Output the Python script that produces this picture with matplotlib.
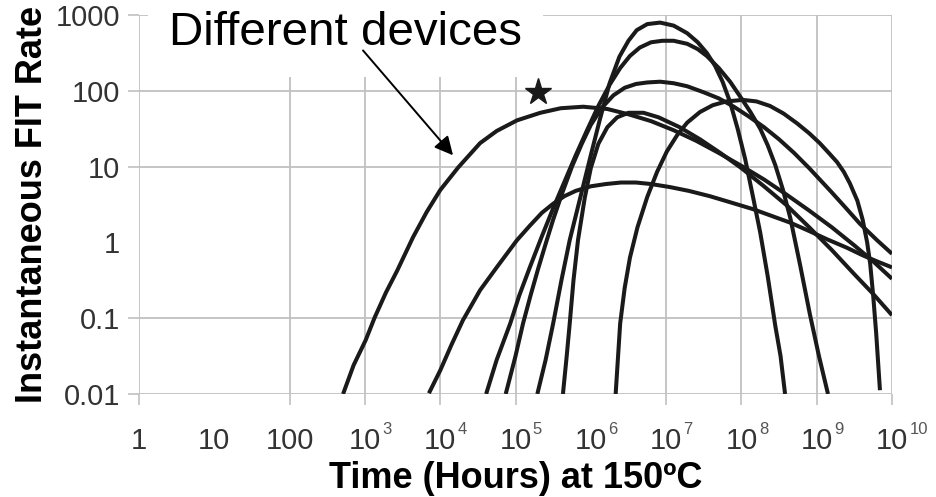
import numpy as np
import matplotlib
matplotlib.use('Agg')
import matplotlib.pyplot as plt
from matplotlib.ticker import FixedLocator, NullFormatter

plt.rcParams['font.family'] = ['Liberation Sans', 'DejaVu Sans']

# ---------------- data (log10 of hours, log10 of FIT) ----------------
x_ticks = [1, 10, 100, 1e3, 1e4, 1e5, 1e6, 1e7, 1e8, 1e9, 1e10]
x_labels = ['1', '10', '100', '10', '10', '10', '10', '10', '10', '10', '10']
x_sup_ticks = [1e3, 1e4, 1e5, 1e6, 1e7, 1e8, 1e9, 1e10]
x_sup_labels = ['3', '4', '5', '6', '7', '8', '9', '10']
x_grid = [1, 100, 1e3, 1e4, 1e5, 1e7, 1e8, 1e9, 1e10]
y_ticks = [0.01, 0.1, 1, 10, 100, 1000]
y_labels = ['0.01', '0.1', '1', '10', '100', '1000']
y_grid = [0.01, 0.1, 10, 100, 1000]

dev_a_logt = [2.71, 2.85, 3.01, 3.13, 3.28, 3.43, 3.64, 3.82, 4.0, 4.24, 4.53, 4.75, 5.02, 5.33, 5.6,
              5.9, 6.22, 6.5, 6.8, 7.1, 7.4, 7.7, 8.0, 8.3, 8.6, 8.9, 9.2, 9.5, 9.75, 10.0]
dev_a_logf = [-2.0, -1.62, -1.29, -0.99, -0.66, -0.37, 0.07, 0.40, 0.69, 0.99, 1.31, 1.47, 1.61, 1.71, 1.77,
              1.79, 1.76, 1.69, 1.60, 1.48, 1.34, 1.18, 1.01, 0.83, 0.63, 0.42, 0.20, -0.04, -0.25, -0.48]

dev_b_logt = [3.85, 4.0, 4.15, 4.30, 4.53, 4.75, 5.02, 5.19, 5.35, 5.5, 5.65, 5.8, 6.0, 6.2, 6.4, 6.6,
              6.8, 7.05, 7.3, 7.58, 7.85, 8.15, 8.4, 8.65, 8.9, 9.14, 9.4, 9.61, 9.8, 10.0]
dev_b_logf = [-1.99, -1.69, -1.35, -1.03, -0.63, -0.33, 0.03, 0.22, 0.39, 0.51, 0.61, 0.68, 0.74, 0.77, 0.79, 0.79,
              0.77, 0.73, 0.68, 0.61, 0.53, 0.44, 0.35, 0.26, 0.15, 0.04, -0.07, -0.17, -0.25, -0.33]

dev_c_logt = [5.29, 5.40, 5.50, 5.61, 5.72, 5.86, 6.0, 6.12, 6.25, 6.38, 6.5, 6.61, 6.75, 6.92, 7.1,
              7.28, 7.42, 7.54, 7.65, 7.75, 7.85, 7.95, 8.05, 8.15, 8.25, 8.35, 8.45, 8.52, 8.58]
dev_c_logf = [-2.0, -1.55, -1.07, -0.5, 0.03, 0.59, 1.15, 1.62, 2.10, 2.45, 2.66, 2.80, 2.88, 2.90, 2.86,
              2.76, 2.64, 2.50, 2.33, 2.12, 1.85, 1.50, 1.10, 0.62, 0.13, -0.45, -1.10, -1.50, -2.0]

dev_d_logt = [4.61, 4.75, 4.93, 5.05, 5.19, 5.35, 5.5, 5.65, 5.8, 5.95, 6.1, 6.25, 6.39, 6.52, 6.65, 6.8,
              6.95, 7.1, 7.28, 7.42, 7.54, 7.7, 7.85, 8.0, 8.12, 8.25, 8.35, 8.45, 8.55, 8.65, 8.78,
              8.91, 9.03, 9.15]
dev_d_logf = [-2.0, -1.55, -1.07, -0.70, -0.33, 0.08, 0.45, 0.80, 1.15, 1.48, 1.80, 2.08, 2.30, 2.46, 2.57, 2.64,
              2.66, 2.66, 2.62, 2.55, 2.46, 2.30, 2.12, 1.90, 1.72, 1.50, 1.28, 1.02, 0.70, 0.32, -0.30,
              -0.95, -1.50, -2.0]

dev_e_logt = [4.87, 5.0, 5.1, 5.2, 5.3, 5.4, 5.5, 5.62, 5.75, 5.88, 6.0, 6.15, 6.3, 6.45, 6.6, 6.75, 6.92,
              7.1, 7.28, 7.5, 7.7, 7.9, 8.1, 8.3, 8.5, 8.7, 8.9, 9.05, 9.2, 9.4, 9.57, 9.8, 10.0]
dev_e_logf = [-2.0, -1.5, -1.07, -0.70, -0.35, -0.02, 0.30, 0.65, 1.0, 1.30, 1.55, 1.78, 1.94, 2.04, 2.09, 2.11, 2.12,
              2.10, 2.06, 1.98, 1.90, 1.79, 1.66, 1.52, 1.36, 1.18, 0.98, 0.82, 0.66, 0.44, 0.25, 0.03, -0.15]

dev_f_logt = [6.33, 6.39, 6.45, 6.52, 6.62, 6.75, 6.88, 7.01, 7.15, 7.28, 7.45, 7.62, 7.8, 8.02, 8.2, 8.38,
              8.56, 8.74, 8.9, 9.04, 9.17, 9.27, 9.36, 9.44, 9.54, 9.61, 9.67, 9.71, 9.75, 9.79, 9.84]
dev_f_logf = [-2.0, -1.07, -0.6, -0.2, 0.2, 0.6, 0.93, 1.2, 1.42, 1.58, 1.72, 1.81, 1.86, 1.88, 1.86, 1.80,
              1.70, 1.57, 1.44, 1.31, 1.17, 1.06, 0.93, 0.78, 0.55, 0.30, 0.0, -0.28, -0.70, -1.20, -1.95]

dev_g_logt = [5.63, 5.68, 5.72, 5.77, 5.83, 5.92, 6.0, 6.1, 6.22, 6.35, 6.5, 6.7, 6.9, 7.18, 7.45, 7.72,
              8.0, 8.3, 8.6, 8.9, 9.2, 9.5, 9.75, 10.0]
dev_g_logf = [-2.0, -1.5, -1.07, -0.5, 0.03, 0.59, 0.98, 1.30, 1.52, 1.65, 1.71, 1.71, 1.65, 1.52, 1.36, 1.18,
              0.98, 0.74, 0.49, 0.20, -0.10, -0.42, -0.68, -0.96]

devices = [(dev_a_logt, dev_a_logf), (dev_b_logt, dev_b_logf), (dev_c_logt, dev_c_logf),
           (dev_d_logt, dev_d_logf), (dev_e_logt, dev_e_logf), (dev_f_logt, dev_f_logf),
           (dev_g_logt, dev_g_logf)]

star_hours = [2.0e5]
star_fit = [95]

# ---------------- figure ----------------
fig = plt.figure(figsize=(9.37, 4.97), dpi=100)
ax = fig.add_axes([139 / 937, 1 - 394 / 497, (892 - 139) / 937, (394 - 15) / 497])
ax.set_xscale('log')
ax.set_yscale('log')
ax.set_xlim(1, 1e10)
ax.set_ylim(0.01, 1000)

for s in ax.spines.values():
    s.set_visible(False)

grid_col = '#c0c0c0'
ax.xaxis.remove_overlapping_locs = False
ax.yaxis.remove_overlapping_locs = False
ax.set_xticks(x_ticks)
ax.set_xticklabels(x_labels)
ax.set_yticks(y_ticks)
ax.set_yticklabels(y_labels)
ax.xaxis.set_minor_locator(FixedLocator(x_grid))
ax.yaxis.set_minor_locator(FixedLocator(y_grid))
ax.xaxis.set_minor_formatter(NullFormatter())
ax.yaxis.set_minor_formatter(NullFormatter())
ax.tick_params(which='major', length=0, labelsize=21, labelcolor='#333333')
ax.tick_params(axis='x', which='major', pad=24)
ax.tick_params(axis='y', which='major', pad=13.7)
ax.tick_params(which='minor', length=8, width=1.2, color=grid_col)
ax.grid(which='minor', color=grid_col, linewidth=1.3)
ax.grid(which='major', visible=False)
ax.set_axisbelow(True)

for t, s in zip(x_sup_ticks, x_sup_labels):
    ax.annotate(s, xy=(t, 0), xycoords=('data', 'axes fraction'), xytext=(12.5, -28.5),
                textcoords='offset points', fontsize=12, color='#555555', ha='left',
                va='baseline', annotation_clip=False)

for lt, lf in devices:
    ax.plot(10 ** np.array(lt), 10 ** np.array(lf), color='#1a1a1a', lw=2.9,
            solid_capstyle='butt', solid_joinstyle='round', zorder=3)

ax.plot(star_hours, star_fit, marker='*', color='#1a1a1a', markersize=20, linestyle='none', zorder=4)

ax.text(2.5, 398, 'Different devices', fontsize=34.2, color='black', ha='left', va='baseline',
        zorder=2.5, bbox=dict(facecolor='white', edgecolor='none', boxstyle='square,pad=0.45'))
ax.annotate('', xy=(1.48e4, 14.1), xytext=(944, 341),
            arrowprops=dict(arrowstyle='-|>', color='black', lw=1.4, mutation_scale=28,
                            shrinkA=0, shrinkB=0), zorder=4)

ax.set_xlabel('Time (Hours) at 150ºC', fontsize=26, fontweight='bold', labelpad=4.3)
ax.set_ylabel('Instantaneous FIT Rate', fontsize=26, fontweight='bold', labelpad=4)

fig.savefig('out.png', dpi=100, facecolor='white')
